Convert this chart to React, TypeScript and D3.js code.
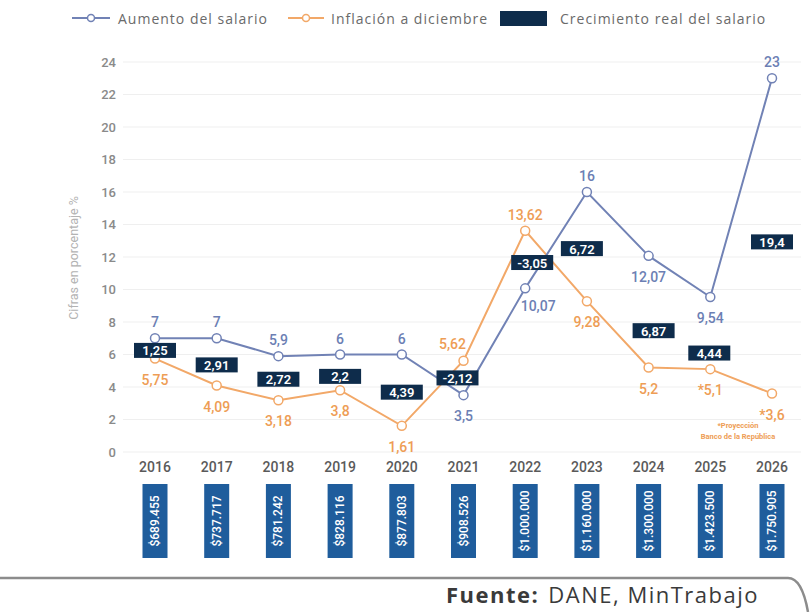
import React from 'react';
import * as d3 from 'd3';

const years = ['2016', '2017', '2018', '2019', '2020', '2021', '2022', '2023', '2024', '2025', '2026'];
const aumentoSalario = [7, 7, 5.9, 6, 6, 3.5, 10.07, 16, 12.07, 9.54, 23];
const inflacionDiciembre = [5.75, 4.09, 3.18, 3.8, 1.61, 5.62, 13.62, 9.28, 5.2, 5.1, 3.6];
const inflacionProyectada = [false, false, false, false, false, false, false, false, false, true, true];
const crecimientoReal = [1.25, 2.91, 2.72, 2.2, 4.39, -2.12, -3.05, 6.72, 6.87, 4.44, 19.4];
const salarioMinimo = ['$689.455', '$737.717', '$781.242', '$828.116', '$877.803', '$908.526', '$1.000.000', '$1.160.000', '$1.300.000', '$1.423.500', '$1.750.905'];
const yTicks = [0, 2, 4, 6, 8, 10, 12, 14, 16, 18, 20, 22, 24];

// label placement (layout only)
const aumentoPos = ['t', 't', 't', 't', 't', 'b', 'br', 't', 'b', 'b', 't'];
const inflacionPos = ['b', 'b', 'b', 'b', 'b', 'tl', 't', 'b', 'b', 'b', 'b'];
const realNudge: [number, number][] = [[0, 2], [0, 3], [0, 1], [0, 4], [0, 2], [-6, 0], [7, 3], [-5, 2], [5, 19], [-1, 20], [0, 6]];

const BLUE = '#7182b5';
const BLUE_TXT = '#6c7fb4';
const ORANGE = '#f2a868';
const ORANGE_TXT = '#ee9d55';
const NAVY = '#0e2c4b';
const SAL_BLUE = '#1f5d9c';
const FONT = 'Roboto, "DejaVu Sans", sans-serif';
const WIDE = '"Open Sans", Roboto, sans-serif';

const fmt = (v: number) => String(v).replace('.', ',');

export default function App() {
  const W = 811, H = 612;
  const x = d3.scalePoint<string>().domain(years).range([155, 772]);
  const y = d3.scaleLinear().domain([0, 24]).range([452, 62]);
  const line = d3.line<number>().x((_, i) => x(years[i])!).y(d => y(d));

  const labelXY = (pos: string, px: number, py: number): [number, number] => {
    switch (pos) {
      case 't': return [px, py - 16];
      case 'b': return [px, py + 21];
      case 'br': return [px + 13, py + 18];
      case 'tl': return [px - 11, py - 17];
      default: return [px, py];
    }
  };

  return (
    <svg width={W} height={H} viewBox={`0 0 ${W} ${H}`} style={{ position: 'absolute', left: 0, top: 0, background: '#fff', fontFamily: FONT }}>
      <rect x={0} y={0} width={W} height={H} fill="#fff" />
      {/* Legend */}
      <g fontSize={14} fill="#6a6a6a" fontFamily={WIDE} letterSpacing={1}>
        <line x1={72} x2={110} y1={18} y2={18} stroke={BLUE} strokeWidth={2} />
        <circle cx={91} cy={18} r={3.5} fill="#fff" stroke={BLUE} strokeWidth={1.5} />
        <text x={118} y={18} dominantBaseline="central">Aumento del salario</text>
        <line x1={288} x2={324} y1={18} y2={18} stroke={ORANGE} strokeWidth={2} />
        <circle cx={306} cy={18} r={3.5} fill="#fff" stroke={ORANGE} strokeWidth={1.5} />
        <text x={331} y={18} dominantBaseline="central">Inflación a diciembre</text>
        <rect x={500} y={11} width={47} height={15} fill={NAVY} />
        <text x={560} y={18} dominantBaseline="central">Crecimiento real del salario</text>
      </g>

      {/* Y axis title */}
      <text transform={`translate(73, 258) rotate(-90)`} textAnchor="middle" dominantBaseline="central" fontSize={12.5} fill="#b3b3b3">Cifras en porcentaje %</text>

      {/* grid + y ticks */}
      {yTicks.map(t => (
        <g key={t}>
          <line x1={123} x2={801} y1={y(t)} y2={y(t)} stroke="#efefef" strokeWidth={1} />
          <text x={116} y={y(t)} textAnchor="end" dominantBaseline="central" fontSize={13} fontWeight={500} fill="#8a8a8a">{t}</text>
        </g>
      ))}

      {/* lines */}
      <path d={line(inflacionDiciembre)!} fill="none" stroke={ORANGE} strokeWidth={2} />
      <path d={line(aumentoSalario)!} fill="none" stroke={BLUE} strokeWidth={2} />
      {inflacionDiciembre.map((v, i) => (
        <circle key={'oc' + i} cx={x(years[i])} cy={y(v)} r={4.5} fill="#fff" stroke={ORANGE} strokeWidth={1.5} />
      ))}
      {aumentoSalario.map((v, i) => (
        <circle key={'bc' + i} cx={x(years[i])} cy={y(v)} r={4.5} fill="#fff" stroke={BLUE} strokeWidth={1.5} />
      ))}

      {/* real growth boxes */}
      {crecimientoReal.map((v, i) => {
        const cx = x(years[i])! + realNudge[i][0];
        const cy = y((aumentoSalario[i] + inflacionDiciembre[i]) / 2) + realNudge[i][1];
        return (
          <g key={'r' + i}>
            <rect x={cx - 21} y={cy - 7.5} width={42} height={15} fill={NAVY} />
            <text x={cx} y={cy + 0.5} textAnchor="middle" dominantBaseline="central" fontSize={13} fontWeight={600} fill="#fff">{fmt(v)}</text>
          </g>
        );
      })}

      {/* labels */}
      {aumentoSalario.map((v, i) => {
        const [lx, ly] = labelXY(aumentoPos[i], x(years[i])!, y(v));
        return <text key={'bl' + i} x={lx} y={ly} textAnchor="middle" dominantBaseline="central" fontSize={14} fontWeight={500} fill={BLUE_TXT}>{fmt(v)}</text>;
      })}
      {inflacionDiciembre.map((v, i) => {
        const [lx, ly] = labelXY(inflacionPos[i], x(years[i])!, y(v));
        return <text key={'ol' + i} x={lx} y={ly} textAnchor="middle" dominantBaseline="central" fontSize={14} fontWeight={500} fill={ORANGE_TXT}>{(inflacionProyectada[i] ? '*' : '') + fmt(v)}</text>;
      })}
      <text x={738} y={428} textAnchor="middle" fontSize={7.5} fontWeight={700} fill={ORANGE_TXT}>*Proyección</text>
      <text x={738} y={439} textAnchor="middle" fontSize={7.5} fontWeight={700} fill={ORANGE_TXT}>Banco de la República</text>

      {/* x axis years and salary boxes */}
      {years.map((yr, i) => {
        const cx = x(yr)!;
        return (
          <g key={'x' + i}>
            <text x={cx} y={467} textAnchor="middle" dominantBaseline="central" fontSize={14} fontWeight={500} fill="#5a5a5a">{yr}</text>
            <rect x={cx - 12.5} y={484} width={25} height={74} fill={SAL_BLUE} />
            <text transform={`translate(${cx}, 521) rotate(-90)`} textAnchor="middle" dominantBaseline="central" fontSize={12} fontWeight={500} fill="#fff">{salarioMinimo[i]}</text>
          </g>
        );
      })}

      {/* footer */}
      <path d="M0,578 L788,578 Q802,578 808,612" fill="none" stroke="#8c8c8c" strokeWidth={2.5} />
      <text x={446} y={603} fontSize={22} fill="#3a3a3a" fontFamily={WIDE} letterSpacing={1.5}>
        <tspan fontWeight={700}>Fuente:</tspan>
        <tspan dx={9}>DANE, MinTrabajo</tspan>
      </text>
    </svg>
  );
}
